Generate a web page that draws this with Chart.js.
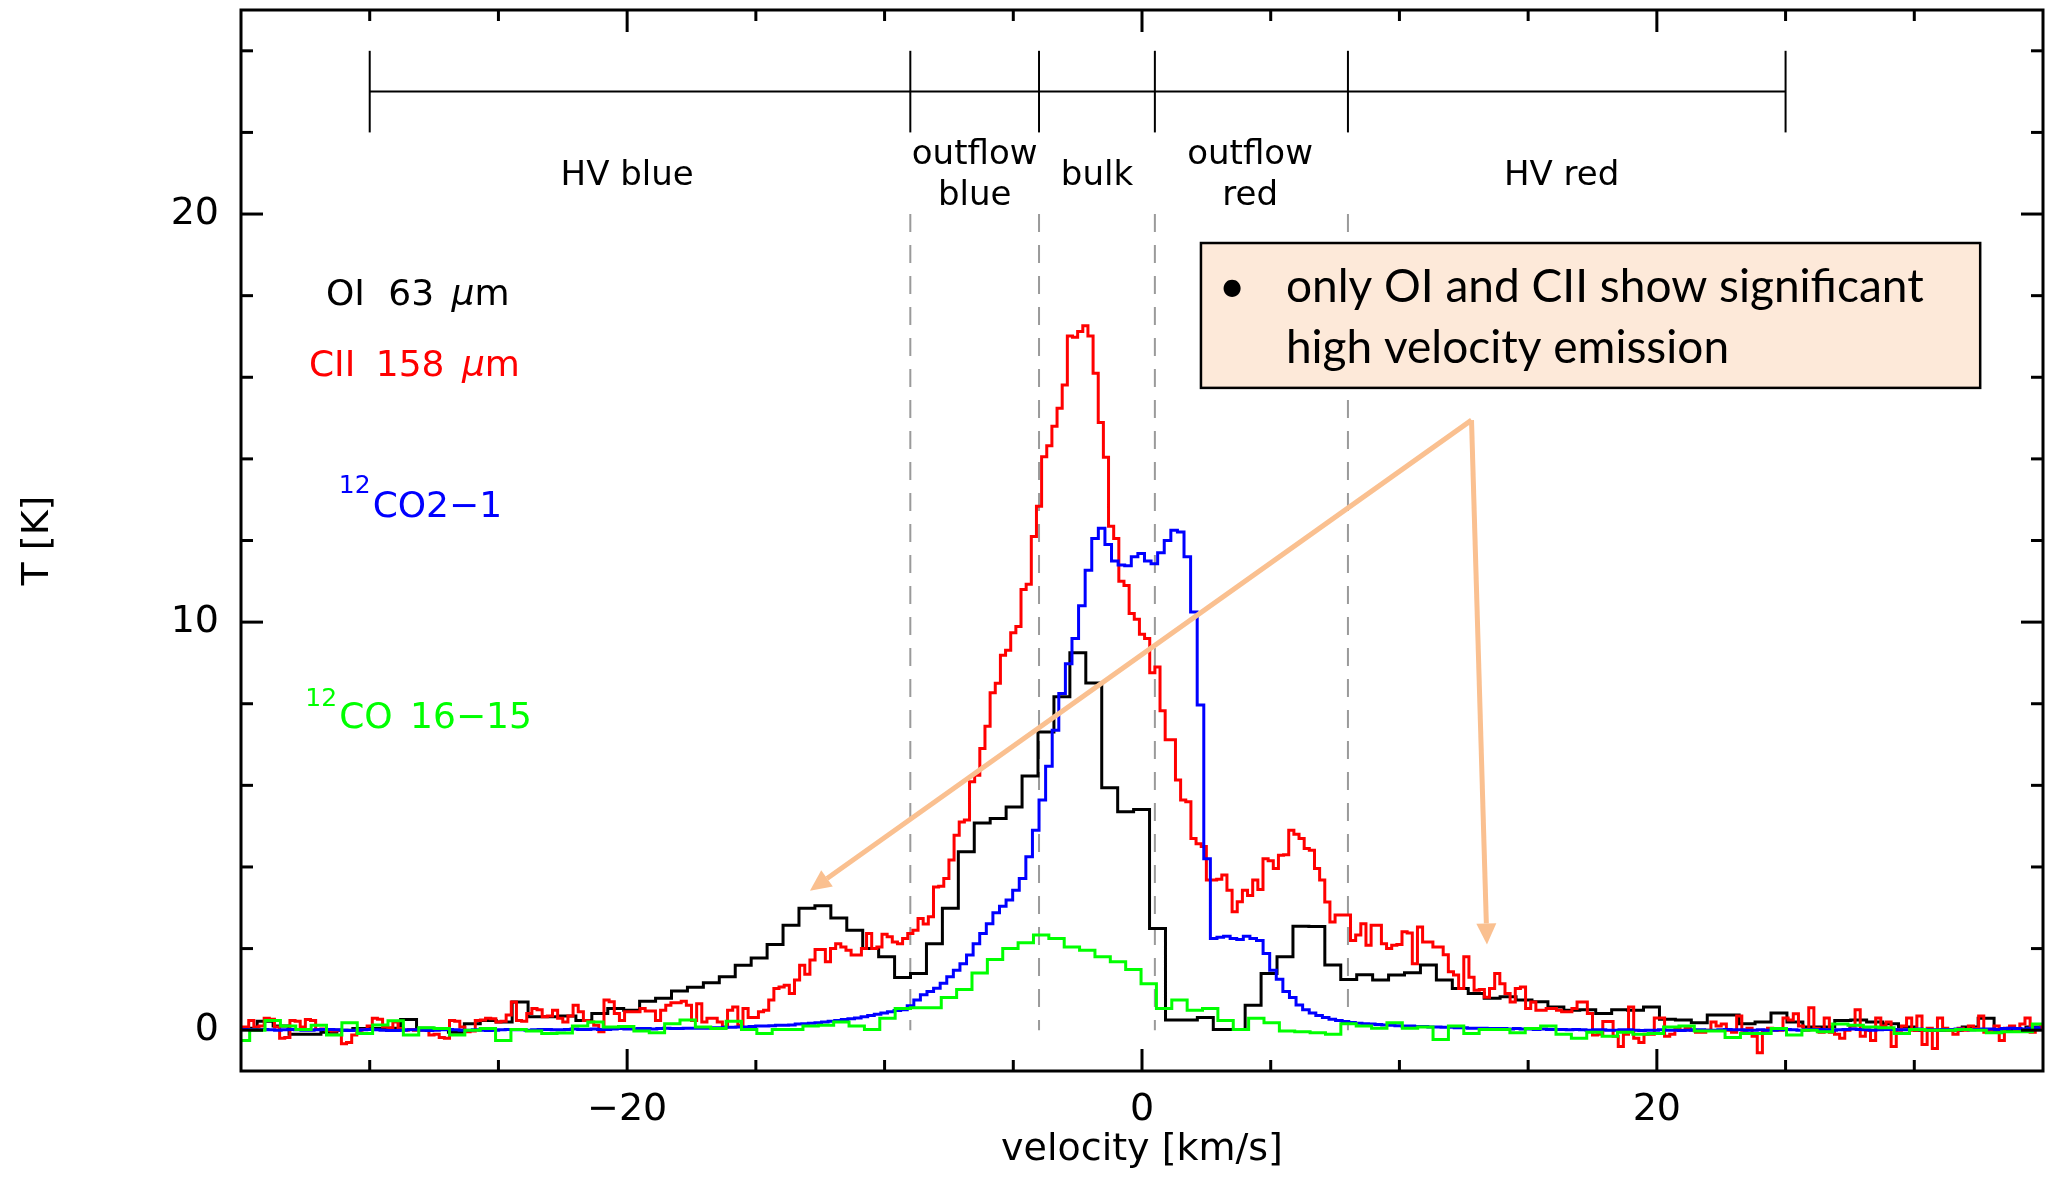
<!DOCTYPE html>
<html>
<head>
<meta charset="utf-8">
<title>Line profiles: OI, CII, CO</title>
<script src="https://cdn.jsdelivr.net/npm/chart.js@4.4.1/dist/chart.umd.min.js"></script>
<style>
  html, body { margin: 0; padding: 0; background: #ffffff; overflow: hidden; }
  canvas { display: block; }
</style>
</head>
<body>
<canvas id="spec" width="2056" height="1178"></canvas>
<script>
// ---- Spectra: brightness temperature T [K] per velocity channel ----
// Each spectrum: first channel's lower edge [km/s], channel width [km/s], values.

// OI 63 um
const oiLo = -34.99, oiStep = 0.619;
const oiT = [
  0.05, 0.22, 0.10, -0.10, -0.10, -0.05, 0.00, 0.04, 0.04, 0.05,
  0.26, 0.05, 0.02, -0.05, 0.16, 0.24, 0.20, 0.69, 0.33, 0.33,
  0.35, 0.24, 0.41, 0.53, 0.49, 0.71, 0.78, 0.96, 1.05, 1.16,
  1.31, 1.59, 1.77, 2.10, 2.57, 2.99, 3.05, 2.75, 2.45, 2.00,
  1.80, 1.29, 1.39, 2.12, 2.99, 4.37, 5.08, 5.19, 5.47, 6.23,
  7.31, 8.17, 9.25, 8.51, 5.94, 5.35, 5.41, 2.49, 0.25, 0.25,
  0.31, 0.02, 0.02, 0.61, 1.39, 1.80, 2.55, 2.54, 1.60, 1.24,
  1.36, 1.23, 1.35, 1.41, 1.60, 1.23, 1.02, 0.90, 0.78, 0.82,
  0.74, 0.70, 0.57, 0.49, 0.50, 0.41, 0.50, 0.49, 0.57, 0.27,
  0.25, 0.18, 0.37, 0.37, 0.16, 0.20, 0.42, 0.20, 0.08, 0.08,
  0.24, 0.25, 0.20, 0.16, 0.08, 0.00, 0.00, 0.00, 0.08, 0.29,
  0.00, 0.02, 0.08
];

// CII 158 um
const ciiLo = -35.1, ciiStep = 0.2;
const ciiT = [
  0.08, 0.08, 0.24, 0.08, 0.10, 0.29, 0.27, 0.08, -0.20, -0.18,
  0.24, 0.22, 0.08, 0.26, 0.24, 0.02, 0.03, 0.00, -0.02, 0.00,
  -0.33, -0.30, -0.12, 0.00, 0.02, 0.10, 0.29, 0.27, 0.08, 0.06,
  0.20, 0.04, 0.00, 0.02, 0.00, 0.00, 0.02, -0.12, -0.10, -0.18,
  -0.20, 0.24, 0.22, 0.08, -0.04, -0.02, 0.24, 0.25, 0.29, 0.28,
  0.20, 0.22, 0.37, 0.69, 0.24, 0.22, 0.41, 0.53, 0.50, 0.33,
  0.35, 0.49, 0.29, 0.20, 0.35, 0.61, 0.45, 0.24, 0.20, 0.12,
  -0.04, 0.74, 0.70, 0.41, 0.24, 0.45, 0.45, 0.45, 0.53, 0.47,
  0.47, 0.24, 0.49, 0.61, 0.67, 0.67, 0.71, 0.61, 0.24, 0.65,
  0.20, 0.29, 0.29, 0.20, 0.08, 0.49, 0.57, 0.12, 0.53, 0.31,
  0.31, 0.45, 0.49, 0.74, 1.02, 1.06, 1.10, 0.90, 1.23, 1.59,
  1.37, 1.72, 1.98, 1.98, 1.68, 2.00, 2.12, 2.04, 1.96, 1.84,
  1.84, 2.00, 2.37, 2.00, 2.04, 2.35, 2.29, 2.16, 2.12, 2.25,
  2.37, 2.45, 2.74, 2.60, 2.78, 3.51, 3.53, 3.72, 4.17, 4.78,
  5.10, 5.15, 6.09, 6.25, 6.90, 7.45, 8.27, 8.50, 9.19, 9.31,
  9.74, 9.89, 10.80, 10.93, 12.10, 12.84, 14.05, 14.32, 14.80, 15.24,
  15.81, 17.01, 16.98, 17.12, 17.26, 17.01, 16.10, 14.89, 14.04, 12.35,
  12.05, 11.00, 10.90, 10.21, 10.07, 9.70, 9.60, 8.76, 8.90, 7.83,
  7.12, 7.12, 6.13, 5.64, 5.60, 4.70, 4.57, 4.50, 3.68, 3.68,
  3.70, 3.80, 3.43, 2.90, 3.15, 3.43, 3.30, 3.68, 3.45, 4.20,
  4.15, 3.96, 4.29, 4.30, 4.90, 4.80, 4.70, 4.45, 4.41, 3.96,
  3.68, 3.14, 2.65, 2.82, 2.82, 2.82, 2.20, 2.33, 2.61, 2.08,
  2.57, 2.57, 2.12, 2.00, 2.08, 2.10, 2.41, 2.38, 1.63, 2.53,
  2.16, 2.16, 2.04, 2.04, 1.85, 1.43, 1.35, 1.02, 1.80, 1.30,
  0.98, 1.00, 0.81, 1.02, 1.39, 1.14, 0.90, 0.69, 1.02, 1.06,
  0.53, 0.69, 0.49, 0.49, 0.53, 0.53, 0.49, 0.45, 0.45, 0.53,
  0.69, 0.69, 0.41, -0.12, -0.10, 0.21, 0.21, -0.15, -0.40, -0.10,
  0.57, -0.20, -0.30, -0.10, -0.10, 0.30, 0.30, -0.15, -0.10, 0.05,
  0.00, 0.05, 0.00, -0.05, -0.05, 0.00, 0.20, 0.10, 0.15, 0.00,
  -0.05, 0.35, 0.00, 0.05, -0.15, -0.55, 0.00, 0.05, 0.00, 0.00,
  0.30, 0.25, 0.40, 0.10, 0.00, 0.55, 0.05, -0.05, 0.30, -0.05,
  -0.10, -0.20, 0.00, 0.10, 0.50, -0.15, 0.00, -0.25, 0.30, 0.10,
  0.20, -0.40, 0.00, 0.10, 0.30, 0.00, 0.35, -0.35, 0.05, -0.45,
  0.30, 0.05, 0.00, -0.10, 0.05, 0.00, 0.10, 0.05, 0.35, -0.05,
  0.00, 0.10, -0.25, 0.05, 0.10, 0.00, 0.15, 0.30, -0.05, 0.05,
  0.10
];

// 12CO 2-1
const co21Lo = -34.976, co21Step = 0.256;
const co21T = [
  0.02, 0.02, 0.01, 0.02, 0.01, 0.00, 0.01, 0.02, 0.01, 0.00,
  0.00, 0.01, 0.02, 0.02, 0.01, 0.00, -0.01, 0.00, 0.01, 0.02,
  0.01, 0.00, -0.01, -0.01, 0.00, 0.01, 0.01, 0.00, -0.01, 0.00,
  0.01, 0.02, 0.01, 0.00, 0.00, 0.01, 0.00, -0.01, 0.00, 0.01,
  0.02, 0.01, 0.01, 0.00, 0.01, 0.02, 0.02, 0.01, 0.01, 0.02,
  0.03, 0.02, 0.02, 0.03, 0.02, 0.02, 0.03, 0.04, 0.03, 0.03,
  0.04, 0.04, 0.03, 0.04, 0.05, 0.04, 0.04, 0.05, 0.05, 0.05,
  0.05, 0.06, 0.06, 0.07, 0.07, 0.08, 0.08, 0.09, 0.10, 0.10,
  0.11, 0.12, 0.12, 0.13, 0.15, 0.16, 0.17, 0.18, 0.20, 0.22,
  0.24, 0.26, 0.28, 0.30, 0.33, 0.36, 0.39, 0.42, 0.45, 0.48,
  0.50, 0.60, 0.74, 0.87, 0.95, 1.03, 1.15, 1.31, 1.47, 1.63,
  1.84, 2.12, 2.37, 2.61, 2.88, 3.04, 3.19, 3.43, 3.72, 4.25,
  4.90, 5.64, 6.47, 7.35, 8.25, 8.98, 9.60, 10.40, 11.27, 12.05,
  12.30, 11.90, 11.50, 11.40, 11.38, 11.60, 11.68, 11.50, 11.43, 11.70,
  12.00, 12.25, 12.21, 11.60, 10.25, 7.97, 4.20, 2.25, 2.28, 2.30,
  2.25, 2.22, 2.30, 2.25, 2.20, 1.88, 1.47, 1.25, 0.95, 0.80,
  0.62, 0.50, 0.42, 0.36, 0.31, 0.27, 0.24, 0.21, 0.19, 0.17,
  0.16, 0.15, 0.14, 0.13, 0.12, 0.11, 0.10, 0.10, 0.09, 0.09,
  0.08, 0.08, 0.07, 0.07, 0.06, 0.06, 0.05, 0.05, 0.05, 0.04,
  0.04, 0.04, 0.03, 0.04, 0.03, 0.03, 0.02, 0.03, 0.02, 0.02,
  0.02, 0.01, 0.02, 0.01, 0.00, 0.01, 0.01, 0.00, 0.00, 0.01,
  0.01, 0.00, -0.01, 0.00, 0.00, 0.01, 0.00, 0.00, -0.01, 0.00,
  0.01, 0.01, 0.00, 0.00, 0.01, 0.02, 0.01, 0.01, 0.00, 0.00,
  0.01, 0.00, 0.00, 0.01, 0.02, 0.01, 0.00, 0.01, 0.02, 0.02,
  0.01, 0.00, 0.01, 0.02, 0.03, 0.02, 0.01, 0.00, 0.01, 0.02,
  0.02, 0.01, 0.01, 0.02, 0.03, 0.02, 0.01, 0.01, 0.02, 0.02,
  0.03, 0.02, 0.01, 0.02, 0.03, 0.03, 0.02, 0.04, 0.05, 0.04,
  0.03, 0.05, 0.06
];

// 12CO 16-15
const co1615Lo = -35.26, co1615Step = 0.597;
const co1615T = [
  -0.25, 0.00, 0.24, 0.10, 0.02, 0.12, -0.12, 0.18, -0.08, 0.13,
  0.23, -0.12, 0.06, 0.04, -0.12, 0.00, 0.04, -0.25, 0.02, -0.02,
  -0.08, -0.07, 0.10, 0.20, 0.08, 0.09, -0.02, -0.06, 0.16, 0.25,
  0.08, 0.04, 0.22, 0.02, -0.08, 0.02, 0.02, 0.10, 0.12, 0.20,
  0.10, 0.02, 0.29, 0.53, 0.55, 0.55, 0.80, 1.00, 1.40, 1.73,
  2.00, 2.14, 2.33, 2.25, 2.04, 1.96, 1.80, 1.68, 1.49, 1.14,
  0.53, 0.74, 0.49, 0.53, 0.24, 0.02, 0.29, 0.18, -0.02, -0.04,
  -0.06, -0.10, 0.16, 0.10, 0.05, 0.18, 0.05, 0.08, -0.23, 0.10,
  -0.08, 0.02, 0.02, -0.06, 0.04, 0.10, -0.10, -0.20, -0.05, -0.15,
  -0.05, -0.10, -0.08, 0.08, 0.10, -0.02, -0.02, -0.18, -0.08, -0.08,
  0.04, -0.12, 0.00, -0.04, 0.15, 0.12, 0.08, 0.06, -0.08, 0.02,
  0.00, 0.00, 0.02, 0.00, -0.06, -0.04, -0.04, 0.15, 0.15
];

// ---- Axes ----
const xTickValues = [-30, -25, -20, -15, -10, -5, 0, 5, 10, 15, 20, 25, 30];
const xLabelValues = [-20, 0, 20];
const yTickValues = [0, 2, 4, 6, 8, 10, 12, 14, 16, 18, 20, 22, 24];
const yLabelValues = [0, 10, 20];

// ---- Velocity ranges of the kinematic components [km/s] ----
const regionEdges = [-30, -9, -4, 0.5, 8, 25];
const dashedEdges = [-9, -4, 0.5, 8];
const regionLabels = [
  { v: -20.0, lines: ['HV blue'] },
  { v: -6.5, lines: ['outflow', 'blue'] },
  { v: -1.75, lines: ['bulk'] },
  { v: 4.2, lines: ['outflow', 'red'] },
  { v: 16.3, lines: ['HV red'] }
];

const noteLines = ['only OI and CII show significant', 'high velocity emission'];

const FONT = '"DejaVu Sans", "Liberation Sans", sans-serif';
const NOTE_FONT = 'Lato, "Open Sans", sans-serif';
const ARROW = '#fac090';

// channel list -> histogram outline (lower edges + closing right edge)
function histogram(lo, step, vals) {
  const pts = vals.map((t, i) => ({ x: lo + step * i, y: t }));
  pts.push({ x: lo + step * vals.length, y: vals[vals.length - 1] });
  return pts;
}

function fmt(v) { return v < 0 ? '\u2212' + Math.abs(v) : String(v); }

function line(ctx, x0, y0, x1, y1) {
  ctx.beginPath(); ctx.moveTo(x0, y0); ctx.lineTo(x1, y1); ctx.stroke();
}

function arrow(ctx, x0, y0, x1, y1) {
  const ang = Math.atan2(y1 - y0, x1 - x0);
  const hl = 21, hw = 10;
  const bx = x1 - hl * Math.cos(ang), by = y1 - hl * Math.sin(ang);
  ctx.beginPath(); ctx.moveTo(x0, y0); ctx.lineTo(bx, by); ctx.stroke();
  ctx.beginPath();
  ctx.moveTo(x1, y1);
  ctx.lineTo(bx + hw * Math.sin(ang), by - hw * Math.cos(ang));
  ctx.lineTo(bx - hw * Math.sin(ang), by + hw * Math.cos(ang));
  ctx.closePath(); ctx.fill();
}

// text made of runs with different fonts / vertical offsets
function runs(ctx, x, y, parts, color) {
  ctx.fillStyle = color; ctx.textAlign = 'left'; ctx.textBaseline = 'alphabetic';
  let cx = x;
  for (const p of parts) {
    ctx.font = p.font;
    ctx.fillText(p.text, cx, y + (p.dy || 0));
    cx += ctx.measureText(p.text).width + (p.gap || 0);
  }
}

const overlay = {
  id: 'overlay',
  beforeDatasetsDraw(chart) {
    const ctx = chart.ctx, xs = chart.scales.x, ys = chart.scales.y;
    ctx.save();
    ctx.strokeStyle = '#9a9a9a'; ctx.lineWidth = 2; ctx.setLineDash([18, 13]);
    for (const v of dashedEdges) line(ctx, xs.getPixelForValue(v), ys.getPixelForValue(20), xs.getPixelForValue(v), ys.getPixelForValue(0));
    ctx.restore();
  },
  afterDatasetsDraw(chart) {
    const ctx = chart.ctx, xs = chart.scales.x, ys = chart.scales.y;
    const X = v => xs.getPixelForValue(v), Y = t => ys.getPixelForValue(t);
    ctx.save();

    // component bar
    ctx.strokeStyle = '#000'; ctx.lineWidth = 2;
    line(ctx, X(regionEdges[0]), Y(23), X(regionEdges[regionEdges.length - 1]), Y(23));
    for (const v of regionEdges) line(ctx, X(v), Y(22), X(v), Y(24));

    // component names
    ctx.fillStyle = '#000'; ctx.textAlign = 'center'; ctx.textBaseline = 'alphabetic';
    ctx.font = '34px ' + FONT;
    for (const r of regionLabels) {
      if (r.lines.length === 1) ctx.fillText(r.lines[0], X(r.v), Y(20.71));
      else { ctx.fillText(r.lines[0], X(r.v), Y(21.23)); ctx.fillText(r.lines[1], X(r.v), Y(20.22)); }
    }

    // line identifications
    const f36 = '36px ' + FONT, f36i = 'italic 36px ' + FONT, f25 = '25px ' + FONT;
    runs(ctx, X(-31.7), Y(17.77), [
      { text: 'OI ', font: f36, gap: 12 }, { text: '63 ', font: f36, gap: 6 },
      { text: '\u03bc', font: f36i }, { text: 'm', font: f36 }], '#000000');
    runs(ctx, X(-32.36), Y(16.03), [
      { text: 'CII ', font: f36, gap: 9 }, { text: '158 ', font: f36, gap: 6 },
      { text: '\u03bc', font: f36i }, { text: 'm', font: f36 }], '#ff0000');
    runs(ctx, X(-31.2), Y(12.57), [
      { text: '12', font: f25, dy: -24, gap: 2 }, { text: 'CO2\u22121', font: f36 }], '#0000ff');
    runs(ctx, X(-32.5), Y(7.4), [
      { text: '12', font: f25, dy: -22, gap: 2 }, { text: 'CO ', font: f36, gap: 6 }, { text: '16\u221215', font: f36 }], '#00ff00');

    // arrows
    ctx.strokeStyle = ARROW; ctx.fillStyle = ARROW; ctx.lineWidth = 5; ctx.lineCap = 'butt';
    arrow(ctx, X(12.8), Y(14.95), X(-12.9), Y(3.42));
    arrow(ctx, X(12.8), Y(14.95), X(13.4), Y(2.1));

    // note box
    const bx0 = X(2.29), bx1 = X(32.56), by0 = Y(19.29), by1 = Y(15.74);
    ctx.fillStyle = '#fde9d9';
    ctx.fillRect(bx0, by0, bx1 - bx0, by1 - by0);
    ctx.strokeStyle = '#000'; ctx.lineWidth = 2.5;
    ctx.strokeRect(bx0, by0, bx1 - bx0, by1 - by0);
    ctx.fillStyle = '#000'; ctx.textAlign = 'left'; ctx.textBaseline = 'alphabetic';
    ctx.font = '46px ' + NOTE_FONT;
    ctx.fillText('\u2022', X(2.98), Y(17.84));
    ctx.fillText(noteLines[0], X(5.59), Y(17.84));
    ctx.fillText(noteLines[1], X(5.59), Y(16.35));
    ctx.restore();
  },
  afterDraw(chart) {
    const ctx = chart.ctx, a = chart.chartArea, xs = chart.scales.x, ys = chart.scales.y;
    ctx.save();
    ctx.strokeStyle = '#000'; ctx.lineWidth = 3; ctx.lineCap = 'square';
    ctx.strokeRect(a.left, a.top, a.right - a.left, a.bottom - a.top);
    ctx.lineCap = 'butt';
    for (const v of xTickValues) {
      const px = xs.getPixelForValue(v), len = xLabelValues.includes(v) ? 22 : 11;
      line(ctx, px, a.bottom, px, a.bottom - len);
      line(ctx, px, a.top, px, a.top + len);
    }
    for (const t of yTickValues) {
      const py = ys.getPixelForValue(t), len = yLabelValues.includes(t) ? 22 : 12;
      line(ctx, a.left, py, a.left + len, py);
      line(ctx, a.right, py, a.right - len, py);
    }
    ctx.restore();
  }
};

const common = { stepped: true, pointRadius: 0, borderWidth: 3, fill: false, tension: 0 };

new Chart(document.getElementById('spec'), {
  type: 'line',
  data: {
    datasets: [
      Object.assign({ label: 'OI 63 \u03bcm', data: histogram(oiLo, oiStep, oiT), borderColor: '#000000', order: 3 }, common),
      Object.assign({ label: 'CII 158 \u03bcm', data: histogram(ciiLo, ciiStep, ciiT), borderColor: '#ff0000', order: 2 }, common),
      Object.assign({ label: '12CO 2\u22121', data: histogram(co21Lo, co21Step, co21T), borderColor: '#0000ff', order: 1 }, common),
      Object.assign({ label: '12CO 16\u221215', data: histogram(co1615Lo, co1615Step, co1615T), borderColor: '#00ff00', order: 0 }, common)
    ]
  },
  options: {
    responsive: false,
    animation: false,
    events: [],
    layout: { padding: { left: 0, right: 13, top: 10, bottom: 0 } },
    plugins: { legend: { display: false }, tooltip: { enabled: false } },
    scales: {
      x: {
        type: 'linear', min: -35, max: 35,
        afterBuildTicks: s => { s.ticks = xTickValues.map(v => ({ value: v })); },
        afterFit: s => { s.height = 107; s.paddingLeft = 0; s.paddingRight = 0; },
        grid: { display: false, drawTicks: false },
        border: { display: false },
        ticks: {
          autoSkip: false, maxRotation: 0, minRotation: 0, padding: 16, color: '#000',
          font: { family: FONT, size: 38 },
          callback: v => xLabelValues.includes(v) ? fmt(v) : ''
        },
        title: { display: true, text: 'velocity [km/s]', color: '#000', font: { family: FONT, size: 38 }, padding: { top: 0, bottom: 5 } }
      },
      y: {
        type: 'linear', min: -1, max: 25,
        afterBuildTicks: s => { s.ticks = yTickValues.map(v => ({ value: v })); },
        afterFit: s => { s.width = 241; s.paddingTop = 0; s.paddingBottom = 0; },
        grid: { display: false, drawTicks: false },
        border: { display: false },
        ticks: {
          autoSkip: false, padding: 22, color: '#000',
          font: { family: FONT, size: 38 },
          callback: v => yLabelValues.includes(v) ? fmt(v) : ''
        },
        title: { display: true, text: 'T [K]', color: '#000', font: { family: FONT, size: 38 }, padding: { top: 15, bottom: 0 } }
      }
    }
  },
  plugins: [overlay]
});
</script>
</body>
</html>
